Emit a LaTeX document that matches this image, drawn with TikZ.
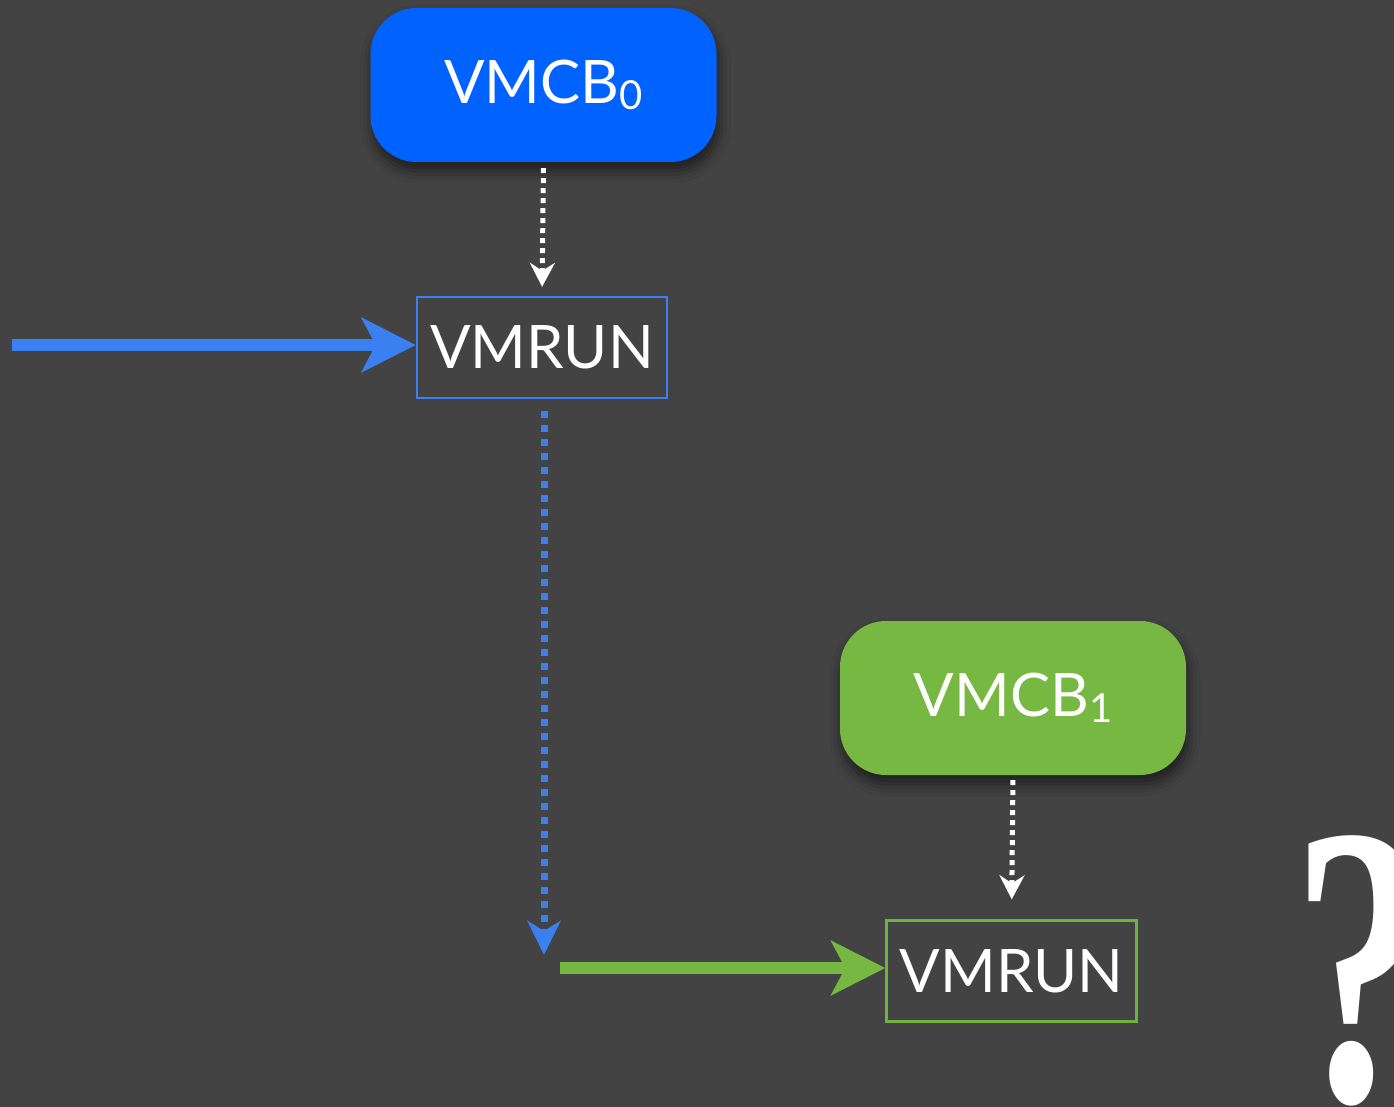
\documentclass[tikz,border=0pt]{standalone}
\usepackage{fontspec}
\setmainfont{Lato}
\newfontfamily\qfont{Liberation Serif}
\usetikzlibrary{arrows.meta,shadows.blur}

\definecolor{bgdark}{HTML}{434343}
\definecolor{vmblue}{HTML}{0062FF}
\definecolor{lineblue}{HTML}{3A80F0}
\definecolor{vmgreen}{HTML}{76B842}
\definecolor{linegreen}{HTML}{6DB33F}

\tikzset{
  boxshadow/.style={blur shadow={shadow xshift=2pt, shadow yshift=-9pt,
      shadow blur radius=12pt, shadow opacity=55}},
  vmcb/.style={rounded corners=46pt, minimum width=346pt, minimum height=154pt,
      inner sep=0pt, text=white, font=\fontsize{60}{60}\selectfont, boxshadow},
  vmrun/.style={draw, line width=2.4pt, minimum width=250pt, minimum height=101pt,
      inner sep=0pt, text=white, font=\fontsize{60}{60}\selectfont},
  whitedots/.style={draw=white, line width=5pt, dash pattern=on 5pt off 5pt,
      -{Stealth[length=24pt, width=25pt, inset=8pt]}},
  bluedots/.style={draw=lineblue, line width=7pt, dash pattern=on 7pt off 7pt,
      -{Stealth[length=34pt, width=33pt, inset=10pt]}},
  fatarrow/.style={line width=12.5pt,
      -{Stealth[length=54pt, width=54pt, inset=14pt]}}
}
\newcommand{\vsub}[1]{\raisebox{-6pt}{\fontsize{40}{40}\selectfont #1}}

\begin{document}
\begin{tikzpicture}[x=1pt, y=-1pt]
  % canvas
  \useasboundingbox (0,0) rectangle (1394,1107);
  \fill[bgdark] (0,0) rectangle (1394,1107);

  % control blocks and the two VMRUN instructions
  \node[vmcb, fill=vmblue] (cb0) at (543.5,85) {VMCB\vsub{0}};
  \node[vmrun, draw=lineblue] (run0) at (542,347.5) {VMRUN};
  \node[vmcb, fill=vmgreen] (cb1) at (1013,698) {VMCB\vsub{1}};
  \node[vmrun, draw=linegreen] (run1) at (1011.5,971) {VMRUN};

  % free ends of the flow arrows
  \coordinate (entry) at (12,345);
  \coordinate (drop) at (544,955);
  \coordinate (resume) at (560,968);

  % connectors
  \draw[whitedots, shorten <=6pt, shorten >=9pt] (cb0.south) -- (run0.north);
  \draw[whitedots, shorten <=5pt, shorten >=20pt] (cb1.south) -- (run1.north);
  \draw[fatarrow, draw=lineblue, fill=lineblue] (entry) -- (entry -| run0.west);
  \draw[bluedots, shorten <=12pt] (run0.south -| drop) -- (drop);
  \draw[fatarrow, draw=vmgreen, fill=vmgreen] (resume) -- (resume -| run1.west);

  % tall, narrow question mark running off the edge
  \begin{scope}
    \clip (0,0) rectangle (1394,1107);
    \begin{scope}[shift={(1292,835)}, xscale=0.68]
      \node[anchor=north west, inner sep=0pt, text=white, transform shape,
            font=\qfont\bfseries\fontsize{400}{400}\selectfont] (qm) at (0,0) {?};
    \end{scope}
  \end{scope}
\end{tikzpicture}
\end{document}
